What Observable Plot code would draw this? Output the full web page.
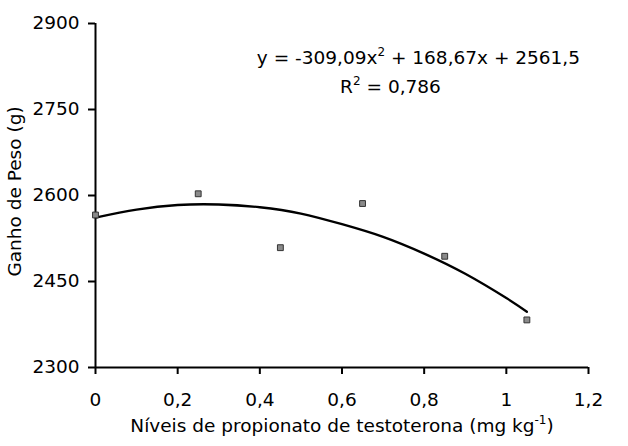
<!DOCTYPE html>
<html>
<head>
<meta charset="utf-8">
<script src="https://cdn.jsdelivr.net/npm/d3@7"></script>
<script src="https://cdn.jsdelivr.net/npm/@observablehq/plot@0.6"></script>
<style>
  html, body { margin: 0; padding: 0; background: #fff; }
  svg { font-family: "DejaVu Sans", sans-serif; }
</style>
</head>
<body>
<div id="chart"></div>
<script>
// Observed points
const doses = [0, 0.25, 0.45, 0.65, 0.85, 1.05];
const ganho = [2566, 2603, 2509, 2586, 2494, 2383];

// Trend curve
const curveX = [0, 0.1, 0.2, 0.3, 0.4, 0.5, 0.6, 0.7, 0.8, 0.9, 1.0, 1.05];
const curveY = [2561.5, 2575.3, 2583.4, 2584.3, 2579.5, 2568.6, 2550.0, 2527.9, 2498.7, 2463.5, 2421.1, 2397.2];

const xTicks = [0, 0.2, 0.4, 0.6, 0.8, 1.0, 1.2];
const yTicks = [2300, 2450, 2600, 2750, 2900];

const equationText = "y = -309,09x^2^ + 168,67x + 2561,5";
const r2Text = "R^2^ = 0,786";
const xLabel = "Níveis de propionato de testoterona (mg kg^-1^)";
const yLabel = "Ganho de Peso (g)";

const points = doses.map((d, i) => ({x: d, y: ganho[i]}));
const curve = curveX.map((d, i) => ({x: d, y: curveY[i]}));
const fmt = d => String(d).replace(".", ",");
const FS = 18.5;

const chart = Plot.plot({
  width: 628,
  height: 446,
  marginLeft: 95,
  marginRight: 40,
  marginTop: 23,
  marginBottom: 79,
  style: {fontFamily: "DejaVu Sans, sans-serif", fontSize: FS + "px", color: "#000", background: "#fff"},
  x: {domain: [0, 1.2]},
  y: {domain: [2300, 2900]},
  marks: [
    Plot.axisX({ticks: xTicks, tickFormat: fmt, tickSize: 7, tickPadding: 18, strokeWidth: 2, label: null, fontSize: FS}),
    Plot.axisY({ticks: yTicks, tickFormat: d => String(d), tickSize: 7, tickPadding: 9, strokeWidth: 2, label: null, fontSize: FS}),
    Plot.ruleX([0], {stroke: "#000", strokeWidth: 2}),
    Plot.ruleY([2300], {stroke: "#000", strokeWidth: 2}),
    Plot.line(curve, {x: "x", y: "y", curve: "natural", stroke: "#000", strokeWidth: 2.3}),
    Plot.dot(points, {x: "x", y: "y", symbol: "square", r: 3.3, fill: "#8a8a8a", stroke: "#333", strokeWidth: 1}),
    Plot.text([equationText], {x: 0.786, y: 2830, text: d => d, textAnchor: "middle", lineAnchor: "bottom", fontSize: FS, fill: "#000"}),
    Plot.text([r2Text], {x: 0.718, y: 2778, text: d => d, textAnchor: "middle", lineAnchor: "bottom", fontSize: FS, fill: "#000"}),
    Plot.text([xLabel], {frameAnchor: "bottom", text: d => d, lineAnchor: "top", dy: 51, fontSize: FS, fill: "#000"}),
    Plot.text([yLabel], {frameAnchor: "left", text: d => d, rotate: -90, dx: -80, dy: -4, textAnchor: "middle", lineAnchor: "middle", fontSize: FS, fill: "#000"})
  ]
});

// Turn ^...^ markers into superscript tspans
d3.select(chart).selectAll("text").each(function() {
  const el = this;
  const s = el.textContent;
  if (!s.includes("^")) return;
  const parts = s.split("^");
  el.textContent = "";
  parts.forEach((p, i) => {
    if (!p) return;
    const t = document.createElementNS("http://www.w3.org/2000/svg", "tspan");
    t.textContent = p;
    if (i % 2 === 1) {
      t.setAttribute("dy", "-8");
      t.setAttribute("font-size", "12");
    } else if (i > 0) {
      t.setAttribute("dy", "8");
    }
    el.appendChild(t);
  });
});

document.getElementById("chart").appendChild(chart);
</script>
</body>
</html>
